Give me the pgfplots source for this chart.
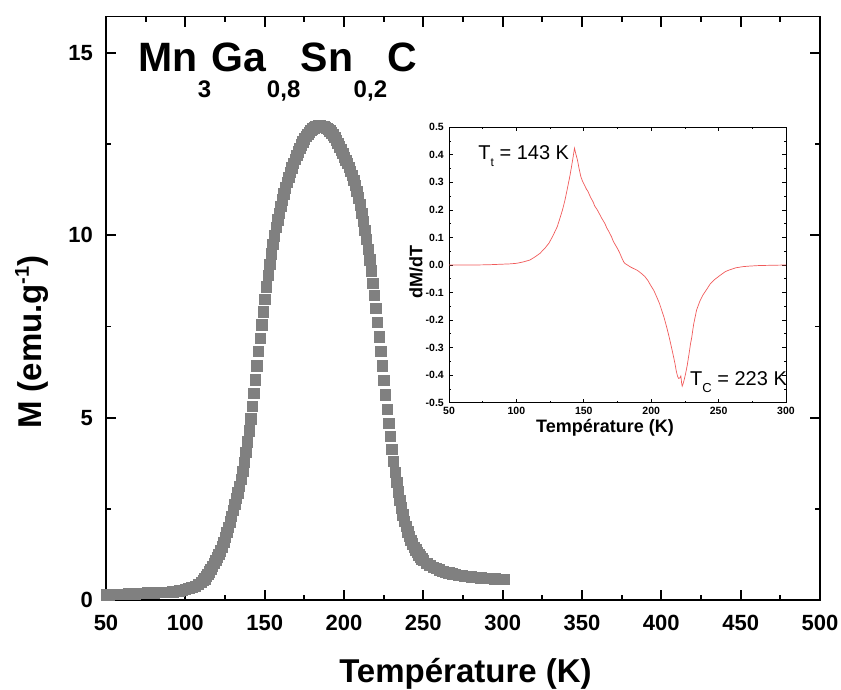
\documentclass[border=0pt]{standalone}
\usepackage{fontspec}
\setmainfont{Liberation Sans}
\usepackage{pgfplots}
\pgfplotsset{compat=1.18}
\usepackage{pgfplotstable}
\definecolor{mgray}{RGB}{128,128,128}
\definecolor{dred}{RGB}{240,90,90}

\pgfplotstableread{
T M
50 0.15
52 0.15
54 0.16
56 0.16
58 0.17
60 0.17
62 0.17
64 0.18
66 0.18
68 0.18
70 0.19
72 0.19
74 0.19
76 0.20
78 0.20
80 0.20
82 0.21
84 0.21
86 0.21
88 0.22
90 0.22
92 0.23
94 0.24
96 0.26
98 0.28
100 0.30
102 0.32
104 0.35
106 0.39
108 0.44
110 0.50
111 0.54
112 0.59
113 0.65
114 0.71
115 0.78
116 0.85
117 0.93
118 1.01
119 1.09
120 1.17
121 1.26
122 1.36
123 1.47
124 1.59
125 1.72
126 1.86
127 2.00
128 2.15
129 2.31
130 2.47
131 2.63
132 2.79
133 2.95
134 3.12
135 3.32
136 3.54
137 3.78
138 4.05
139 4.34
140 4.65
141 4.98
142 5.32
143 5.68
144 6.05
145 6.43
146 6.82
147 7.19
148 7.55
149 7.91
150 8.26
151 8.60
152 8.92
153 9.22
154 9.50
155 9.76
156 10.00
157 10.22
158 10.43
159 10.62
160 10.80
161 10.98
162 11.15
163 11.31
164 11.46
165 11.60
166 11.73
167 11.86
168 11.98
169 12.09
170 12.20
171 12.30
172 12.40
173 12.49
174 12.57
175 12.65
176 12.72
177 12.78
178 12.84
179 12.89
180 12.93
181 12.96
182 12.98
183 13.00
184 13.01
185 13.01
186 13.00
187 12.99
188 12.97
189 12.94
190 12.91
191 12.87
192 12.82
193 12.76
194 12.69
195 12.61
196 12.53
197 12.44
198 12.35
199 12.25
200 12.15
201 12.07
202 11.98
203 11.88
204 11.77
205 11.65
206 11.52
207 11.38
208 11.22
209 11.04
210 10.84
211 10.62
212 10.39
213 10.15
214 9.90
215 9.63
216 9.34
217 9.03
218 8.70
219 8.36
220 8.00
221 7.62
222 7.23
223 6.83
224 6.43
225 6.03
226 5.63
227 5.24
228 4.86
229 4.49
230 4.14
231 3.81
232 3.51
233 3.23
234 2.97
235 2.74
236 2.53
237 2.34
238 2.17
239 2.02
240 1.88
241 1.76
242 1.65
243 1.55
244 1.46
245 1.38
246 1.31
247 1.25
248 1.19
249 1.14
250 1.10
252 1.02
254 0.96
256 0.91
258 0.87
260 0.83
262 0.80
264 0.77
266 0.75
268 0.73
270 0.71
272 0.69
274 0.68
276 0.66
278 0.65
280 0.64
283 0.63
286 0.62
289 0.61
292 0.60
295 0.59
298 0.58
301 0.58
}\mainM

\pgfplotstableread{
T D
50 0.000
60 0.000
70 0.000
80 0.001
90 0.003
95 0.004
100 0.006
105 0.011
110 0.018
114 0.030
117.4 0.042
121 0.060
124.1 0.079
127 0.105
130.3 0.139
132 0.165
134.2 0.200
136 0.235
137.5 0.270
139.6 0.321
141 0.360
142 0.390
143.1 0.424
144 0.405
145.3 0.381
146.5 0.350
147.8 0.321
149 0.305
150 0.295
151 0.285
152 0.275
153 0.268
155 0.246
157 0.228
158 0.215
160 0.200
162 0.182
163 0.172
165.6 0.151
167 0.135
168.5 0.122
170.5 0.103
172 0.085
174 0.068
175.5 0.055
176.7 0.043
178 0.028
179.5 0.012
180.4 0.006
182 0.001
184.9 -0.008
187 -0.013
189.9 -0.020
192 -0.028
193.5 -0.034
195.3 -0.042
197.5 -0.056
199.5 -0.073
202 -0.093
204 -0.115
206 -0.138
207.7 -0.163
209.5 -0.190
211.4 -0.224
213 -0.255
214.4 -0.285
216 -0.320
217.6 -0.357
218.6 -0.385
219.6 -0.405
220.4 -0.412
221.3 -0.410
222 -0.403
222.6 -0.430
223 -0.440
223.6 -0.432
224.3 -0.420
225.5 -0.395
226.7 -0.365
228 -0.325
229.2 -0.285
230 -0.265
231.5 -0.215
233.7 -0.163
236.2 -0.130
238.5 -0.108
241 -0.090
243.6 -0.070
247 -0.053
251 -0.038
255 -0.024
258 -0.018
263 -0.010
268 -0.006
273 -0.004
280 -0.002
290 -0.001
300 0.000
}\deriv

\newcommand{\sub}[1]{\kern0.5pt\raisebox{-26pt}{\fontsize{24}{25}\selectfont #1}\kern0.5pt}

\begin{document}
\begin{tikzpicture}
\begin{axis}[
  at={(0,0)}, anchor=south west,
  scale only axis, width=714pt, height=583.4pt,
  xmin=50, xmax=500, ymin=0, ymax=16,
  xtick={50,100,...,500}, ytick={0,5,10,15},
  minor x tick num=1, minor y tick num=1,
  tick align=inside, tick pos=both,
  xticklabel pos=lower, yticklabel pos=left,
  major tick length=10pt, minor tick length=5pt,
  every tick/.append style={black, line width=1.8pt},
  axis line style={line width=1.8pt},
  /pgf/number format/assume math mode=true,
  ticklabel style={font=\bfseries\fontsize{22}{24}\selectfont},
  xticklabel style={inner sep=0pt, anchor=north, yshift=-15pt},
  yticklabel style={inner sep=0pt, anchor=east, xshift=-13pt},
  xlabel={Température (K)},
  ylabel={M (emu.g\raisebox{0.75ex}{\fontsize{20}{20}\selectfont -1})},
  label style={font=\bfseries\fontsize{33}{36}\selectfont},
  xlabel style={at={(axis description cs:0.5035,0)}, anchor=base, yshift=-83pt, inner sep=0pt},
  ylabel style={at={(axis description cs:-0.1036,0.442)}, anchor=center, inner sep=0pt},
  clip=true,
]
\addplot[only marks, mark=square*, mark size=5.2pt, mark options={draw=mgray, fill=mgray, line width=0.1pt}] table[x=T, y=M]{\mainM};
\node[anchor=base west, inner sep=0pt, font=\bfseries\fontsize{41}{44}\selectfont] at (axis cs:70.2,14.49)
  {Mn\sub{3}Ga\sub{0,8}Sn\sub{0,2}C};
\end{axis}

\begin{axis}[
  at={(343pt,197.3pt)}, anchor=south west,
  scale only axis, width=337pt, height=275.4pt,
  xmin=50, xmax=300, ymin=-0.5, ymax=0.5,
  xtick={50,100,...,300},
  ytick={-0.5,-0.4,-0.3,-0.2,-0.1,0,0.1,0.2,0.3,0.4,0.5},
  yticklabels={-0.5,-0.4,-0.3,-0.2,-0.1,0.0,0.1,0.2,0.3,0.4,0.5},
  minor x tick num=1, minor y tick num=1,
  tick align=inside, tick pos=both,
  xticklabel pos=lower, yticklabel pos=left,
  major tick length=4pt, minor tick length=2pt,
  every tick/.append style={black, line width=0.7pt},
  axis line style={line width=0.8pt},
  /pgf/number format/assume math mode=true,
  ticklabel style={font=\bfseries\fontsize{10.5}{12}\selectfont},
  xticklabel style={inner sep=0pt, anchor=north, yshift=-4pt},
  yticklabel style={inner sep=0pt, anchor=east, xshift=-5pt},
  xlabel={Température (K)},
  ylabel={dM/dT},
  label style={font=\bfseries\fontsize{18}{20}\selectfont},
  xlabel style={at={(axis description cs:0.463,0)}, anchor=base, yshift=-30pt, inner sep=0pt},
  ylabel style={at={(axis description cs:-0.0979,0.4735)}, anchor=center, inner sep=0pt},
]
\addplot[dred, line width=0.7pt] table[x=T, y=D]{\deriv};
\node[anchor=base west, inner sep=0pt, font=\fontsize{20}{22}\selectfont] at (axis cs:71.7,0.384)
  {T\raisebox{-7pt}{\fontsize{12}{12}\selectfont t} = 143 K};
\node[anchor=base west, inner sep=0pt, font=\fontsize{20}{22}\selectfont] at (axis cs:228.8,-0.436)
  {T\raisebox{-7pt}{\fontsize{13}{13}\selectfont C} = 223 K};
\end{axis}
\pgfresetboundingbox
\path[use as bounding box] (-106pt,-90pt) rectangle (735pt,600pt);
\end{tikzpicture}
\end{document}
